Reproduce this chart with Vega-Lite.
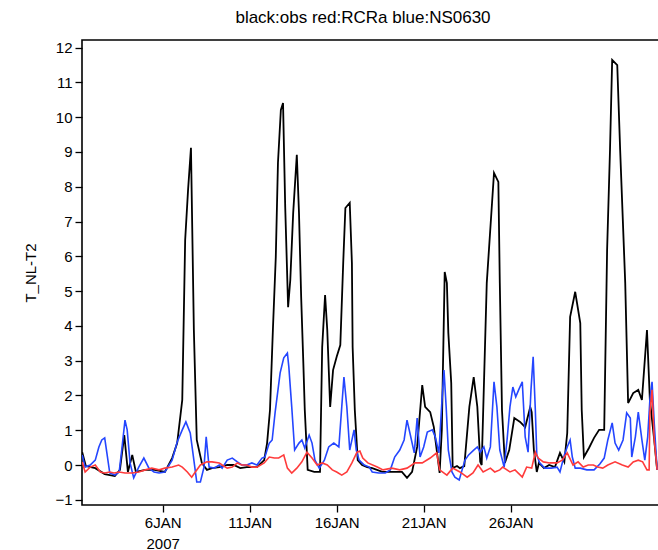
{
  "$schema": "https://vega.github.io/schema/vega-lite/v6.json",
  "width": 586,
  "height": 465,
  "autosize": {"type": "none"},
  "padding": {"left": 82, "top": 40, "right": 0, "bottom": 45},
  "background": "white",
  "title": {"text": "black:obs red:RCRa blue:NS0630", "fontSize": 17, "font": "Liberation Sans", "fontWeight": "normal", "offset": 13, "anchor": "middle", "dx": -12, "color": "black"},
  "config": {
    "view": {"stroke": "black", "strokeWidth": 1.6},
    "axis": {"grid": false, "domain": false, "tickColor": "black", "tickWidth": 1.3, "tickSize": 7, "labelColor": "black", "titleColor": "black", "labelFont": "Liberation Sans", "titleFont": "Liberation Sans", "labelFontSize": 15, "titleFontSize": 15, "titleFontWeight": "normal"}
  },
  "datasets": {
    "obs": [
      {"time":"2007-01-01T09:00","value":0.37},{"time":"2007-01-01T14:00","value":-0.03},{"time":"2007-01-02T03:00","value":-0.09},{"time":"2007-01-02T16:00","value":-0.26},{"time":"2007-01-03T06:00","value":-0.32},{"time":"2007-01-03T13:00","value":-0.14},{"time":"2007-01-03T19:00","value":0.86},{"time":"2007-01-04T00:00","value":-0.2},{"time":"2007-01-04T06:00","value":0.29},{"time":"2007-01-04T11:00","value":-0.2},{"time":"2007-01-05T00:00","value":-0.14},{"time":"2007-01-05T13:00","value":-0.14},{"time":"2007-01-06T03:00","value":-0.2},{"time":"2007-01-06T13:00","value":0.2},{"time":"2007-01-06T20:00","value":0.63},{"time":"2007-01-07T03:00","value":1.87},{"time":"2007-01-07T07:00","value":6.47},{"time":"2007-01-07T11:00","value":7.91},{"time":"2007-01-07T15:00","value":9.12},{"time":"2007-01-07T19:00","value":3.88},{"time":"2007-01-07T23:00","value":0.72},{"time":"2007-01-08T06:00","value":0.06},{"time":"2007-01-08T13:00","value":-0.14},{"time":"2007-01-08T20:00","value":-0.09},{"time":"2007-01-09T06:00","value":-0.06},{"time":"2007-01-09T17:00","value":0.0},{"time":"2007-01-10T02:00","value":0.0},{"time":"2007-01-10T11:00","value":-0.09},{"time":"2007-01-10T20:00","value":-0.06},{"time":"2007-01-11T10:00","value":-0.06},{"time":"2007-01-11T20:00","value":0.14},{"time":"2007-01-12T00:00","value":0.63},{"time":"2007-01-12T04:00","value":1.58},{"time":"2007-01-12T08:00","value":3.88},{"time":"2007-01-12T12:00","value":5.98},{"time":"2007-01-12T15:00","value":8.69},{"time":"2007-01-12T19:00","value":10.21},{"time":"2007-01-12T22:00","value":10.41},{"time":"2007-01-13T01:00","value":7.42},{"time":"2007-01-13T05:00","value":4.54},{"time":"2007-01-13T08:00","value":5.32},{"time":"2007-01-13T12:00","value":7.25},{"time":"2007-01-13T17:00","value":8.92},{"time":"2007-01-13T20:00","value":7.25},{"time":"2007-01-13T23:00","value":4.83},{"time":"2007-01-14T02:00","value":2.93},{"time":"2007-01-14T04:00","value":1.58},{"time":"2007-01-14T08:00","value":-0.14},{"time":"2007-01-14T17:00","value":-0.2},{"time":"2007-01-15T01:00","value":-0.2},{"time":"2007-01-15T04:00","value":3.39},{"time":"2007-01-15T08:00","value":4.89},{"time":"2007-01-15T11:00","value":3.88},{"time":"2007-01-15T15:00","value":1.67},{"time":"2007-01-15T19:00","value":2.73},{"time":"2007-01-16T00:00","value":3.11},{"time":"2007-01-16T05:00","value":3.45},{"time":"2007-01-16T09:00","value":5.81},{"time":"2007-01-16T12:00","value":7.39},{"time":"2007-01-16T18:00","value":7.54},{"time":"2007-01-16T21:00","value":5.81},{"time":"2007-01-16T22:00","value":3.39},{"time":"2007-01-17T01:00","value":1.58},{"time":"2007-01-17T05:00","value":0.14},{"time":"2007-01-17T11:00","value":0.0},{"time":"2007-01-17T18:00","value":-0.06},{"time":"2007-01-18T01:00","value":-0.09},{"time":"2007-01-18T15:00","value":-0.2},{"time":"2007-01-19T04:00","value":-0.2},{"time":"2007-01-19T18:00","value":-0.2},{"time":"2007-01-20T01:00","value":-0.37},{"time":"2007-01-20T08:00","value":-0.2},{"time":"2007-01-20T15:00","value":0.52},{"time":"2007-01-20T22:00","value":2.3},{"time":"2007-01-21T02:00","value":1.67},{"time":"2007-01-21T09:00","value":1.52},{"time":"2007-01-21T14:00","value":1.09},{"time":"2007-01-21T18:00","value":0.43},{"time":"2007-01-21T22:00","value":-0.23},{"time":"2007-01-22T01:00","value":1.01},{"time":"2007-01-22T05:00","value":5.55},{"time":"2007-01-22T08:00","value":5.23},{"time":"2007-01-22T10:00","value":3.8},{"time":"2007-01-22T14:00","value":2.36},{"time":"2007-01-22T16:00","value":-0.09},{"time":"2007-01-22T22:00","value":-0.03},{"time":"2007-01-23T02:00","value":-0.09},{"time":"2007-01-23T08:00","value":-0.03},{"time":"2007-01-23T15:00","value":1.67},{"time":"2007-01-23T21:00","value":2.53},{"time":"2007-01-24T02:00","value":1.67},{"time":"2007-01-24T06:00","value":0.09},{"time":"2007-01-24T08:00","value":0.0},{"time":"2007-01-24T15:00","value":5.23},{"time":"2007-01-24T21:00","value":7.13},{"time":"2007-01-25T01:00","value":8.4},{"time":"2007-01-25T07:00","value":8.14},{"time":"2007-01-25T09:00","value":5.23},{"time":"2007-01-25T12:00","value":1.58},{"time":"2007-01-25T16:00","value":0.06},{"time":"2007-01-25T22:00","value":0.43},{"time":"2007-01-26T05:00","value":1.35},{"time":"2007-01-26T13:00","value":1.24},{"time":"2007-01-26T20:00","value":1.09},{"time":"2007-01-27T03:00","value":1.67},{"time":"2007-01-27T05:00","value":1.52},{"time":"2007-01-27T08:00","value":0.43},{"time":"2007-01-27T12:00","value":-0.2},{"time":"2007-01-27T15:00","value":0.06},{"time":"2007-01-27T22:00","value":-0.09},{"time":"2007-01-28T05:00","value":0.0},{"time":"2007-01-28T13:00","value":-0.06},{"time":"2007-01-28T20:00","value":0.35},{"time":"2007-01-29T02:00","value":0.09},{"time":"2007-01-29T06:00","value":0.92},{"time":"2007-01-29T10:00","value":4.26},{"time":"2007-01-29T17:00","value":4.98},{"time":"2007-01-30T00:00","value":4.08},{"time":"2007-01-30T02:00","value":1.58},{"time":"2007-01-30T05:00","value":0.23},{"time":"2007-01-30T12:00","value":0.49},{"time":"2007-01-30T19:00","value":0.78},{"time":"2007-01-31T02:00","value":1.01},{"time":"2007-01-31T09:00","value":1.01},{"time":"2007-01-31T13:00","value":6.18},{"time":"2007-01-31T17:00","value":9.06},{"time":"2007-01-31T20:00","value":11.65},{"time":"2007-02-01T03:00","value":11.5},{"time":"2007-02-01T07:00","value":9.06},{"time":"2007-02-01T14:00","value":5.23},{"time":"2007-02-01T18:00","value":1.78},{"time":"2007-02-02T01:00","value":2.07},{"time":"2007-02-02T08:00","value":2.16},{"time":"2007-02-02T13:00","value":1.87},{"time":"2007-02-02T20:00","value":3.88},{"time":"2007-02-03T00:00","value":1.87},{"time":"2007-02-03T06:00","value":0.72},{"time":"2007-02-03T10:00","value":-0.14}
    ],
    "ns0630": [
      {"time":"2007-01-01T09:00","value":0.29},{"time":"2007-01-01T13:00","value":-0.06},{"time":"2007-01-01T20:00","value":0.0},{"time":"2007-01-02T03:00","value":0.14},{"time":"2007-01-02T08:00","value":0.52},{"time":"2007-01-02T12:00","value":0.72},{"time":"2007-01-02T16:00","value":0.78},{"time":"2007-01-02T19:00","value":0.35},{"time":"2007-01-02T23:00","value":-0.23},{"time":"2007-01-03T06:00","value":-0.29},{"time":"2007-01-03T12:00","value":-0.2},{"time":"2007-01-03T16:00","value":0.52},{"time":"2007-01-03T20:00","value":1.29},{"time":"2007-01-03T23:00","value":1.01},{"time":"2007-01-04T03:00","value":0.06},{"time":"2007-01-04T08:00","value":-0.37},{"time":"2007-01-04T15:00","value":-0.06},{"time":"2007-01-04T22:00","value":0.2},{"time":"2007-01-05T05:00","value":-0.09},{"time":"2007-01-05T12:00","value":-0.2},{"time":"2007-01-05T19:00","value":-0.23},{"time":"2007-01-06T03:00","value":-0.2},{"time":"2007-01-06T13:00","value":0.14},{"time":"2007-01-06T20:00","value":0.66},{"time":"2007-01-07T03:00","value":1.01},{"time":"2007-01-07T08:00","value":1.24},{"time":"2007-01-07T14:00","value":0.92},{"time":"2007-01-07T19:00","value":0.14},{"time":"2007-01-07T23:00","value":-0.49},{"time":"2007-01-08T04:00","value":-0.49},{"time":"2007-01-08T09:00","value":-0.06},{"time":"2007-01-08T12:00","value":0.81},{"time":"2007-01-08T16:00","value":-0.06},{"time":"2007-01-08T23:00","value":-0.09},{"time":"2007-01-09T06:00","value":0.0},{"time":"2007-01-09T10:00","value":-0.09},{"time":"2007-01-09T17:00","value":0.14},{"time":"2007-01-10T00:00","value":0.2},{"time":"2007-01-10T07:00","value":0.09},{"time":"2007-01-10T13:00","value":0.0},{"time":"2007-01-10T20:00","value":0.0},{"time":"2007-01-11T03:00","value":0.06},{"time":"2007-01-11T10:00","value":0.0},{"time":"2007-01-11T17:00","value":0.2},{"time":"2007-01-11T21:00","value":0.23},{"time":"2007-01-12T03:00","value":0.63},{"time":"2007-01-12T07:00","value":0.72},{"time":"2007-01-12T11:00","value":1.5},{"time":"2007-01-12T18:00","value":2.65},{"time":"2007-01-12T23:00","value":3.08},{"time":"2007-01-13T04:00","value":3.22},{"time":"2007-01-13T06:00","value":2.82},{"time":"2007-01-13T10:00","value":1.67},{"time":"2007-01-13T14:00","value":0.43},{"time":"2007-01-13T20:00","value":0.63},{"time":"2007-01-14T00:00","value":0.72},{"time":"2007-01-14T04:00","value":0.49},{"time":"2007-01-14T10:00","value":0.86},{"time":"2007-01-14T14:00","value":0.63},{"time":"2007-01-14T18:00","value":0.14},{"time":"2007-01-15T00:00","value":-0.09},{"time":"2007-01-15T07:00","value":0.14},{"time":"2007-01-15T13:00","value":0.52},{"time":"2007-01-15T20:00","value":0.63},{"time":"2007-01-16T03:00","value":0.52},{"time":"2007-01-16T07:00","value":1.67},{"time":"2007-01-16T10:00","value":2.53},{"time":"2007-01-16T14:00","value":1.67},{"time":"2007-01-16T18:00","value":0.43},{"time":"2007-01-17T00:00","value":1.01},{"time":"2007-01-17T03:00","value":0.43},{"time":"2007-01-17T07:00","value":0.14},{"time":"2007-01-17T14:00","value":0.0},{"time":"2007-01-17T21:00","value":-0.06},{"time":"2007-01-18T01:00","value":-0.2},{"time":"2007-01-18T10:00","value":-0.23},{"time":"2007-01-18T19:00","value":-0.23},{"time":"2007-01-19T02:00","value":-0.14},{"time":"2007-01-19T08:00","value":0.23},{"time":"2007-01-19T15:00","value":0.43},{"time":"2007-01-19T21:00","value":0.72},{"time":"2007-01-20T01:00","value":1.29},{"time":"2007-01-20T05:00","value":0.92},{"time":"2007-01-20T11:00","value":0.35},{"time":"2007-01-20T15:00","value":1.35},{"time":"2007-01-20T19:00","value":0.23},{"time":"2007-01-21T00:00","value":0.52},{"time":"2007-01-21T05:00","value":0.95},{"time":"2007-01-21T12:00","value":1.01},{"time":"2007-01-21T16:00","value":0.81},{"time":"2007-01-21T21:00","value":0.35},{"time":"2007-01-22T01:00","value":1.78},{"time":"2007-01-22T04:00","value":2.73},{"time":"2007-01-22T07:00","value":1.67},{"time":"2007-01-22T10:00","value":0.43},{"time":"2007-01-22T15:00","value":-0.2},{"time":"2007-01-22T19:00","value":-0.35},{"time":"2007-01-23T01:00","value":-0.43},{"time":"2007-01-23T05:00","value":-0.14},{"time":"2007-01-23T09:00","value":0.14},{"time":"2007-01-23T14:00","value":0.29},{"time":"2007-01-23T21:00","value":0.43},{"time":"2007-01-24T02:00","value":0.52},{"time":"2007-01-24T06:00","value":0.37},{"time":"2007-01-24T11:00","value":0.52},{"time":"2007-01-24T15:00","value":0.2},{"time":"2007-01-24T20:00","value":0.52},{"time":"2007-01-25T01:00","value":2.39},{"time":"2007-01-25T05:00","value":1.67},{"time":"2007-01-25T09:00","value":0.43},{"time":"2007-01-25T15:00","value":-0.06},{"time":"2007-01-25T19:00","value":0.72},{"time":"2007-01-25T23:00","value":1.67},{"time":"2007-01-26T03:00","value":2.24},{"time":"2007-01-26T07:00","value":1.96},{"time":"2007-01-26T11:00","value":2.16},{"time":"2007-01-26T16:00","value":2.39},{"time":"2007-01-26T20:00","value":0.81},{"time":"2007-01-27T00:00","value":0.37},{"time":"2007-01-27T04:00","value":2.16},{"time":"2007-01-27T07:00","value":3.11},{"time":"2007-01-27T10:00","value":1.58},{"time":"2007-01-27T12:00","value":0.29},{"time":"2007-01-27T16:00","value":0.06},{"time":"2007-01-27T23:00","value":-0.09},{"time":"2007-01-28T08:00","value":-0.09},{"time":"2007-01-28T16:00","value":-0.06},{"time":"2007-01-28T20:00","value":-0.2},{"time":"2007-01-29T02:00","value":0.29},{"time":"2007-01-29T06:00","value":0.52},{"time":"2007-01-29T10:00","value":0.72},{"time":"2007-01-29T13:00","value":0.23},{"time":"2007-01-29T17:00","value":-0.09},{"time":"2007-01-30T00:00","value":-0.09},{"time":"2007-01-30T09:00","value":-0.14},{"time":"2007-01-30T19:00","value":-0.14},{"time":"2007-01-31T03:00","value":0.03},{"time":"2007-01-31T09:00","value":0.2},{"time":"2007-01-31T14:00","value":0.72},{"time":"2007-01-31T20:00","value":1.21},{"time":"2007-02-01T00:00","value":0.63},{"time":"2007-02-01T05:00","value":0.43},{"time":"2007-02-01T11:00","value":0.72},{"time":"2007-02-01T16:00","value":1.5},{"time":"2007-02-01T21:00","value":1.35},{"time":"2007-02-01T23:00","value":0.23},{"time":"2007-02-02T04:00","value":0.81},{"time":"2007-02-02T08:00","value":1.52},{"time":"2007-02-02T13:00","value":0.72},{"time":"2007-02-02T17:00","value":0.14},{"time":"2007-02-02T21:00","value":0.81},{"time":"2007-02-03T00:00","value":1.87},{"time":"2007-02-03T03:00","value":2.39},{"time":"2007-02-03T06:00","value":1.21},{"time":"2007-02-03T10:00","value":-0.14}
    ],
    "rcra": [
      {"time":"2007-01-01T09:00","value":0.09},{"time":"2007-01-01T13:00","value":-0.2},{"time":"2007-01-01T20:00","value":-0.06},{"time":"2007-01-02T03:00","value":0.0},{"time":"2007-01-02T10:00","value":-0.2},{"time":"2007-01-02T16:00","value":-0.23},{"time":"2007-01-02T23:00","value":-0.2},{"time":"2007-01-03T05:00","value":-0.23},{"time":"2007-01-03T12:00","value":-0.2},{"time":"2007-01-03T20:00","value":-0.23},{"time":"2007-01-04T06:00","value":-0.23},{"time":"2007-01-04T15:00","value":-0.2},{"time":"2007-01-05T00:00","value":-0.14},{"time":"2007-01-05T09:00","value":-0.09},{"time":"2007-01-05T19:00","value":-0.14},{"time":"2007-01-06T03:00","value":-0.09},{"time":"2007-01-06T13:00","value":-0.06},{"time":"2007-01-06T22:00","value":0.0},{"time":"2007-01-07T03:00","value":-0.06},{"time":"2007-01-07T10:00","value":-0.2},{"time":"2007-01-07T16:00","value":-0.35},{"time":"2007-01-07T21:00","value":-0.2},{"time":"2007-01-08T04:00","value":0.0},{"time":"2007-01-08T13:00","value":0.09},{"time":"2007-01-08T20:00","value":0.09},{"time":"2007-01-09T06:00","value":0.06},{"time":"2007-01-09T10:00","value":0.0},{"time":"2007-01-09T17:00","value":-0.09},{"time":"2007-01-10T00:00","value":-0.06},{"time":"2007-01-10T07:00","value":0.06},{"time":"2007-01-10T13:00","value":0.0},{"time":"2007-01-10T20:00","value":0.0},{"time":"2007-01-11T03:00","value":-0.06},{"time":"2007-01-11T10:00","value":-0.06},{"time":"2007-01-11T20:00","value":0.06},{"time":"2007-01-12T03:00","value":0.23},{"time":"2007-01-12T10:00","value":0.2},{"time":"2007-01-12T16:00","value":0.2},{"time":"2007-01-12T23:00","value":0.29},{"time":"2007-01-13T04:00","value":-0.09},{"time":"2007-01-13T10:00","value":-0.23},{"time":"2007-01-13T17:00","value":-0.09},{"time":"2007-01-14T00:00","value":0.09},{"time":"2007-01-14T07:00","value":0.37},{"time":"2007-01-14T14:00","value":0.2},{"time":"2007-01-14T21:00","value":0.0},{"time":"2007-01-15T04:00","value":0.06},{"time":"2007-01-15T11:00","value":0.0},{"time":"2007-01-15T18:00","value":-0.14},{"time":"2007-01-16T00:00","value":-0.2},{"time":"2007-01-16T07:00","value":-0.29},{"time":"2007-01-16T14:00","value":-0.2},{"time":"2007-01-16T21:00","value":0.06},{"time":"2007-01-17T04:00","value":0.37},{"time":"2007-01-17T08:00","value":0.4},{"time":"2007-01-17T12:00","value":0.2},{"time":"2007-01-17T19:00","value":0.06},{"time":"2007-01-18T08:00","value":-0.06},{"time":"2007-01-18T16:00","value":-0.14},{"time":"2007-01-19T04:00","value":-0.09},{"time":"2007-01-19T15:00","value":-0.14},{"time":"2007-01-20T01:00","value":-0.09},{"time":"2007-01-20T12:00","value":0.06},{"time":"2007-01-20T22:00","value":0.06},{"time":"2007-01-21T09:00","value":0.2},{"time":"2007-01-21T18:00","value":0.35},{"time":"2007-01-21T22:00","value":-0.14},{"time":"2007-01-22T08:00","value":-0.29},{"time":"2007-01-22T16:00","value":-0.09},{"time":"2007-01-23T02:00","value":-0.2},{"time":"2007-01-23T12:00","value":-0.35},{"time":"2007-01-23T20:00","value":-0.23},{"time":"2007-01-24T03:00","value":0.0},{"time":"2007-01-24T10:00","value":-0.2},{"time":"2007-01-24T20:00","value":-0.09},{"time":"2007-01-25T02:00","value":-0.2},{"time":"2007-01-25T09:00","value":-0.14},{"time":"2007-01-25T13:00","value":-0.06},{"time":"2007-01-25T23:00","value":-0.2},{"time":"2007-01-26T06:00","value":-0.14},{"time":"2007-01-26T16:00","value":-0.35},{"time":"2007-01-26T22:00","value":-0.06},{"time":"2007-01-27T05:00","value":-0.09},{"time":"2007-01-27T10:00","value":0.37},{"time":"2007-01-27T14:00","value":0.2},{"time":"2007-01-27T21:00","value":0.09},{"time":"2007-01-28T06:00","value":0.06},{"time":"2007-01-28T16:00","value":0.06},{"time":"2007-01-28T23:00","value":0.14},{"time":"2007-01-29T06:00","value":0.35},{"time":"2007-01-29T14:00","value":0.0},{"time":"2007-01-29T21:00","value":0.09},{"time":"2007-01-30T04:00","value":-0.06},{"time":"2007-01-30T11:00","value":0.0},{"time":"2007-01-30T18:00","value":0.0},{"time":"2007-01-31T00:00","value":-0.06},{"time":"2007-01-31T07:00","value":-0.09},{"time":"2007-01-31T14:00","value":0.0},{"time":"2007-02-01T00:00","value":0.09},{"time":"2007-02-01T10:00","value":0.0},{"time":"2007-02-01T18:00","value":-0.06},{"time":"2007-02-02T01:00","value":0.09},{"time":"2007-02-02T08:00","value":0.14},{"time":"2007-02-02T14:00","value":0.09},{"time":"2007-02-02T20:00","value":-0.14},{"time":"2007-02-02T23:00","value":-0.14},{"time":"2007-02-03T00:00","value":1.5},{"time":"2007-02-03T03:00","value":2.16},{"time":"2007-02-03T06:00","value":0.72},{"time":"2007-02-03T10:00","value":-0.14}
    ]
  },
  "encoding": {
    "x": {
      "field": "time", "type": "temporal",
      "scale": {"domain": ["2007-01-01T08:42", "2007-02-04T01:00"], "nice": false},
      "axis": {
        "title": null,
        "values": [{"year": 2007, "month": 1, "date": 6}, {"year": 2007, "month": 1, "date": 11}, {"year": 2007, "month": 1, "date": 16}, {"year": 2007, "month": 1, "date": 21}, {"year": 2007, "month": 1, "date": 26}],
        "labelExpr": "timeFormat(datum.value, '%-d') == '6' ? ['6JAN', '2007'] : timeFormat(datum.value, '%-d') + 'JAN'",
        "labelAlign": "center", "labelLineHeight": 21, "labelPadding": 3, "labelOverlap": false, "labelFlush": false
      }
    },
    "y": {
      "field": "value", "type": "quantitative",
      "scale": {"domain": [-1.15, 12.22], "nice": false, "zero": false},
      "axis": {"title": "T_NL-T2", "values": [-1, 0, 1, 2, 3, 4, 5, 6, 7, 8, 9, 10, 11, 12], "labelPadding": 3, "titlePadding": 16}
    }
  },
  "layer": [
    {"data": {"name": "obs"}, "mark": {"type": "line", "color": "black", "strokeWidth": 1.8, "clip": true}},
    {"data": {"name": "ns0630"}, "mark": {"type": "line", "color": "#2446ff", "strokeWidth": 1.6, "clip": true}},
    {"data": {"name": "rcra"}, "mark": {"type": "line", "color": "#ff3b3b", "strokeWidth": 1.6, "clip": true}}
  ]
}
